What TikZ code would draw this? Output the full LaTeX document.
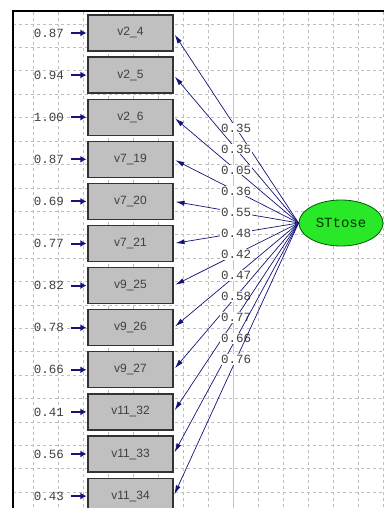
\documentclass[tikz,border=0pt]{standalone}
\usepackage{fontspec}
\setmainfont{Liberation Sans}
\setmonofont{Liberation Mono}
\usetikzlibrary{arrows.meta,shapes.geometric}
\definecolor{navy}{RGB}{20,20,120}
\definecolor{boxgray}{RGB}{192,192,192}
\definecolor{stgreen}{RGB}{40,232,40}
\definecolor{gridgray}{RGB}{190,190,190}

\begin{document}
\begin{tikzpicture}[x=1pt,y=-1pt,
    manifest/.style={draw=black!80,line width=1.2pt,fill=boxgray,minimum width=85pt,
      minimum height=36pt,inner sep=0pt,text=black!75,font=\fontsize{12}{14}\selectfont},
    latent/.style={ellipse,draw=green!35!black,line width=0.8pt,fill=stgreen,minimum width=84pt,
      minimum height=46pt,inner sep=0pt,text=green!20!black,font=\ttfamily\fontsize{14}{16}\selectfont},
    errlabel/.style={anchor=east,inner sep=0pt,text=black!75,font=\ttfamily\fontsize{12.5}{14}\selectfont},
    coef/.style={fill=white,inner sep=1pt,text=black!75,font=\ttfamily\fontsize{12.5}{14}\selectfont},
    loading/.style={navy,line width=0.7pt,-{Latex[length=9pt,width=5pt]},shorten >=2pt},
    errarrow/.style={navy,line width=2pt,-{Latex[length=6pt,width=7pt]},shorten <=7pt,shorten >=1pt},
    gridline/.style={gridgray,line width=0.6pt,dash pattern=on 3pt off 3pt}]
  \useasboundingbox (0,0) rectangle (384,508);

  %% grid and frame
  \foreach \gx in {33,58,...,383}
    \draw[gridline] (\gx,12) -- (\gx,508);
  \foreach \k in {0,...,20}
    \draw[gridline] (13,{24+23.4*\k}) -- (384,{24+23.4*\k});
  \draw[gray!45,line width=0.6pt] (233,12) -- (233,508);
  \draw[line width=1.4pt] (13,508) -- (13,11) -- (384,11);

  %% observed variables
  \node[manifest] (v24) at (130.5,33) {v2\_4};
  \node[manifest] (v25) at (130.5,75.1) {v2\_5};
  \node[manifest] (v26) at (130.5,117.2) {v2\_6};
  \node[manifest] (v719) at (130.5,159.3) {v7\_19};
  \node[manifest] (v720) at (130.5,201.4) {v7\_20};
  \node[manifest] (v721) at (130.5,243.5) {v7\_21};
  \node[manifest] (v925) at (130.5,285.6) {v9\_25};
  \node[manifest] (v926) at (130.5,327.7) {v9\_26};
  \node[manifest] (v927) at (130.5,369.8) {v9\_27};
  \node[manifest] (v1132) at (130.5,411.9) {v11\_32};
  \node[manifest] (v1133) at (130.5,454) {v11\_33};
  \node[manifest] (v1134) at (130.5,496.1) {v11\_34};

  %% error variances
  \node[errlabel] (e24) at (64,33) {0.87};
  \node[errlabel] (e25) at (64,75.1) {0.94};
  \node[errlabel] (e26) at (64,117.2) {1.00};
  \node[errlabel] (e719) at (64,159.3) {0.87};
  \node[errlabel] (e720) at (64,201.4) {0.69};
  \node[errlabel] (e721) at (64,243.5) {0.77};
  \node[errlabel] (e925) at (64,285.6) {0.82};
  \node[errlabel] (e926) at (64,327.7) {0.78};
  \node[errlabel] (e927) at (64,369.8) {0.66};
  \node[errlabel] (e1132) at (64,411.9) {0.41};
  \node[errlabel] (e1133) at (64,454) {0.56};
  \node[errlabel] (e1134) at (64,496.1) {0.43};

  \draw[errarrow] (e24.east) -- (v24.west);
  \draw[errarrow] (e25.east) -- (v25.west);
  \draw[errarrow] (e26.east) -- (v26.west);
  \draw[errarrow] (e719.east) -- (v719.west);
  \draw[errarrow] (e720.east) -- (v720.west);
  \draw[errarrow] (e721.east) -- (v721.west);
  \draw[errarrow] (e925.east) -- (v925.west);
  \draw[errarrow] (e926.east) -- (v926.west);
  \draw[errarrow] (e927.east) -- (v927.west);
  \draw[errarrow] (e1132.east) -- (v1132.west);
  \draw[errarrow] (e1133.east) -- (v1133.west);
  \draw[errarrow] (e1134.east) -- (v1134.west);

  %% latent variable and loadings
  \node[latent] (st) at (341,223) {STtose};

  \draw[loading] (st.west) -- node[coef] {0.35} (v24.east);
  \draw[loading] (st.west) -- node[coef] {0.35} (v25.east);
  \draw[loading] (st.west) -- node[coef] {0.05} (v26.east);
  \draw[loading] (st.west) -- node[coef] {0.36} (v719.east);
  \draw[loading] (st.west) -- node[coef] {0.55} (v720.east);
  \draw[loading] (st.west) -- node[coef] {0.48} (v721.east);
  \draw[loading] (st.west) -- node[coef] {0.42} (v925.east);
  \draw[loading] (st.west) -- node[coef] {0.47} (v926.east);
  \draw[loading] (st.west) -- node[coef] {0.58} (v927.east);
  \draw[loading] (st.west) -- node[coef] {0.77} (v1132.east);
  \draw[loading] (st.west) -- node[coef] {0.66} (v1133.east);
  \draw[loading] (st.west) -- node[coef] {0.76} (v1134.east);

\end{tikzpicture}
\end{document}
